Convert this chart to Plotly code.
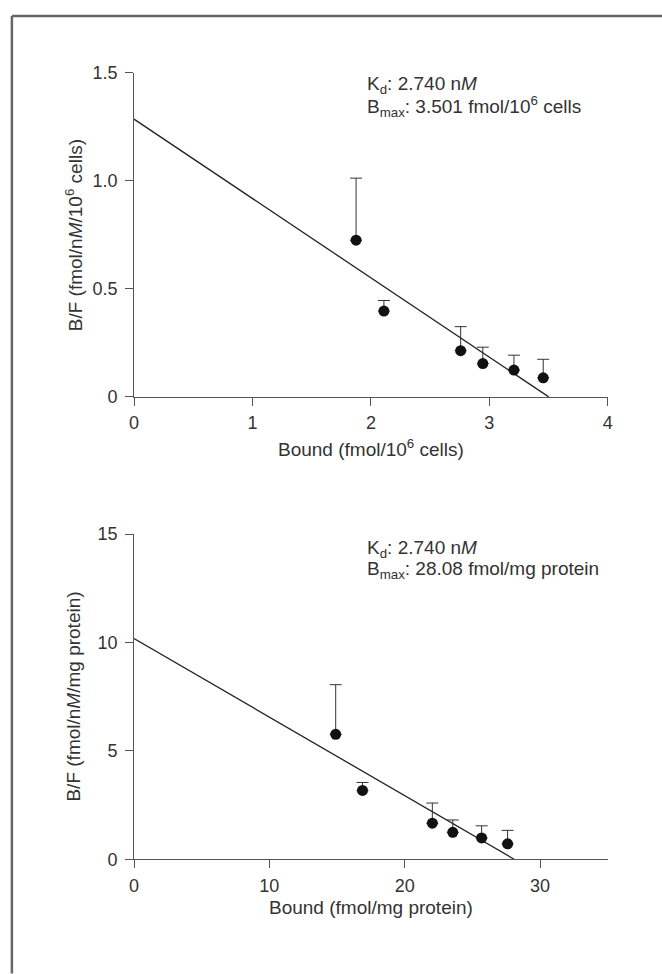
import plotly.graph_objects as go

# ---- Data: top panel (per 10^6 cells) ----
cells_bound = [1.875, 2.11, 2.758, 2.945, 3.208, 3.455]
cells_bf = [0.725, 0.397, 0.214, 0.154, 0.124, 0.088]
cells_bf_upper = [1.012, 0.446, 0.325, 0.230, 0.193, 0.174]
cells_fit_x = [0, 3.501]
cells_fit_y = [1.285, 0]

# ---- Data: bottom panel (per mg protein) ----
prot_bound = [14.9, 16.88, 22.04, 23.55, 25.68, 27.6]
prot_bf = [5.76, 3.17, 1.66, 1.24, 0.98, 0.71]
prot_bf_upper = [8.05, 3.54, 2.59, 1.81, 1.54, 1.33]
prot_fit_x = [0, 28.08]
prot_fit_y = [10.18, 0]

top_xticks = [0, 1, 2, 3, 4]
top_yticks = [0, 0.5, 1.0, 1.5]
top_ytext = ["0", "0.5", "1.0", "1.5"]
bot_xticks = [0, 10, 20, 30]
bot_yticks = [0, 5, 10, 15]

W, H = 662, 974
TXT = "#333333"
AX = "#555555"
FONT = "Liberation Sans, Arial, sans-serif"

def px(x):
    return x / W

def py(y):
    return 1 - y / H

fig = go.Figure()

def add_panel(xs, ys, up, fx, fy, xa, ya):
    fig.add_trace(go.Scatter(
        x=fx, y=fy, mode="lines", xaxis=xa, yaxis=ya,
        line=dict(color="#222222", width=1.3), showlegend=False, hoverinfo="skip"))
    fig.add_trace(go.Scatter(
        x=xs, y=ys, mode="markers", xaxis=xa, yaxis=ya, cliponaxis=False,
        marker=dict(color="#111111", size=11, line=dict(width=0)),
        error_y=dict(type="data", symmetric=False,
                     array=[u - v for u, v in zip(up, ys)],
                     arrayminus=[0] * len(ys),
                     color="#333333", thickness=1, width=6),
        showlegend=False))

add_panel(cells_bound, cells_bf, cells_bf_upper, cells_fit_x, cells_fit_y, "x", "y")
add_panel(prot_bound, prot_bf, prot_bf_upper, prot_fit_x, prot_fit_y, "x2", "y2")

axis_common = dict(showline=True, linecolor=AX, linewidth=1, ticks="outside",
                   ticklen=8, tickwidth=1, tickcolor=AX, showgrid=False,
                   zeroline=False, tickfont=dict(family=FONT, size=18, color=TXT),
                   fixedrange=True)

xdom = [px(131), px(612)]
fig.update_layout(
    width=W, height=H,
    margin=dict(l=0, r=0, t=0, b=0),
    paper_bgcolor="white", plot_bgcolor="white",
    xaxis=dict(domain=xdom, range=[0, 4], tickvals=top_xticks, anchor="y",
               ticklabelstandoff=2, **axis_common),
    yaxis=dict(domain=[py(395), py(64)], range=[0, 1.5], tickvals=top_yticks,
               ticktext=top_ytext, anchor="x", ticklabelstandoff=4, **axis_common),
    xaxis2=dict(domain=xdom, range=[0, 35], tickvals=bot_xticks, anchor="y2",
                ticklabelstandoff=2, **axis_common),
    yaxis2=dict(domain=[py(867), py(535)], range=[0, 15], tickvals=bot_yticks,
                anchor="x2", ticklabelstandoff=4, **axis_common),
)

ann = []
def text(x, y, s, size=19, angle=0, xanchor="center"):
    ann.append(dict(x=px(x), y=py(y), xref="paper", yref="paper", text=s,
                    showarrow=False, textangle=angle, xanchor=xanchor, yanchor="middle",
                    font=dict(family=FONT, size=size, color=TXT)))

# axis titles
text(70, 230, "B/F (fmol/n<i>M</i>/10<sup>6</sup> cells)", size=19, angle=-90)
text(372, 447, "Bound (fmol/10<sup>6</sup> cells)", size=19)
text(70, 701, "B/F (fmol/n<i>M</i>/mg protein)", size=19, angle=-90)
text(372, 916, "Bound (fmol/mg protein)", size=19)

# fit parameters
text(366, 77, "K<sub>d</sub>: 2.740 n<i>M</i>", size=19, xanchor="left")
text(366, 99, "B<sub>max</sub>: 3.501 fmol/10<sup>6</sup> cells", size=19, xanchor="left")
text(366, 550, "K<sub>d</sub>: 2.740 n<i>M</i>", size=19, xanchor="left")
text(366, 572, "B<sub>max</sub>: 28.08 fmol/mg protein", size=19, xanchor="left")

fig.update_layout(annotations=ann)

# page frame (top and left edges)
fig.add_shape(type="line", xref="paper", yref="paper", x0=px(7), x1=1.01, y0=py(6), y1=py(6),
              line=dict(color="#666666", width=2.5))
fig.add_shape(type="line", xref="paper", yref="paper", x0=px(7), x1=px(7), y0=py(6), y1=-0.01,
              line=dict(color="#666666", width=2.5))

fig.write_html("out.html", config={"displayModeBar": False},
               post_script="document.body.style.margin='0';document.body.style.overflow='hidden';")
